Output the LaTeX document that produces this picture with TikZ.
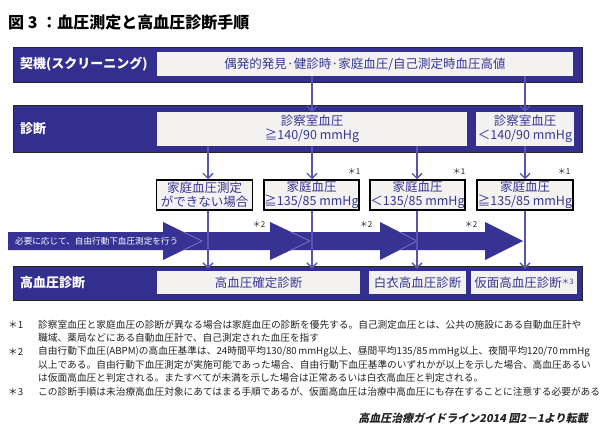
\documentclass[tikz,border=0pt]{standalone}
\usepackage{fontspec}
\setmainfont{Noto Sans CJK JP}
\newfontfamily\jpit{Noto Sans CJK JP}[FakeSlant=0.2]
\usetikzlibrary{arrows.meta}
\XeTeXlinebreaklocale "ja"
\XeTeXlinebreakskip=0pt plus 1pt minus 0.4pt
\definecolor{bandblue}{RGB}{51,47,142}
\definecolor{arrowblue}{RGB}{55,51,148}
\definecolor{boxfill}{RGB}{243,242,241}
\definecolor{textblue}{RGB}{56,54,150}
\definecolor{connblue}{RGB}{88,85,176}
\definecolor{chevron}{RGB}{118,114,196}
\definecolor{notegray}{RGB}{34,34,34}
\tikzset{
  band/.style={draw=black!85, line width=0.6pt, fill=bandblue, inner sep=0pt},
  bandlabel/.style={anchor=west, text=white, font=\bfseries\fontsize{13}{15}\selectfont, inner sep=0pt},
  wbox/.style={fill=boxfill, inner sep=0pt, text=textblue, align=center, font=\fontsize{12.5}{14.5}\selectfont},
  sbox/.style={draw=black, line width=1.5pt, fill=boxfill, inner sep=0pt, text=textblue, align=center, font=\fontsize{12.5}{14.5}\selectfont},
  conn/.style={draw=connblue, line width=1.3pt, -{Straight Barb[length=5pt,width=10pt,line width=1.3pt]}},
  starmark/.style={text=notegray, font=\fontsize{8}{9}\selectfont, inner sep=0pt},
  notelabel/.style={anchor=west, text=notegray, font=\fontsize{9.7}{12}\selectfont, inner sep=0pt},
  noteline/.style={anchor=west, text=notegray, font=\fontsize{9.7}{12}\selectfont, inner sep=0pt},
}
\begin{document}
\begin{tikzpicture}[x=1pt,y=-1pt]
\useasboundingbox (0,0) rectangle (600,433);
\fill[white] (0,0) rectangle (600,433);

% title
\node[anchor=west, inner sep=0pt, font=\bfseries\fontsize{16}{18}\selectfont] (title) at (8,22) {図 3 ：血圧測定と高血圧診断手順};

% band 1
\node[band, minimum width=569pt, minimum height=35pt] (band1) at (297.5,64.5) {};
\node[bandlabel] (lab1) at (20,64.5) {契機(スクリーニング)};
\node[wbox, minimum width=416pt, minimum height=24pt] (b1box) at (365,64) {偶発的発見·健診時·家庭血圧/自己測定時血圧高値};

% band 2
\node[band, minimum width=569pt, minimum height=47pt] (band2) at (297.5,128.5) {};
\node[bandlabel] (lab2) at (20,128.5) {診断};
\node[wbox, minimum width=310pt, minimum height=34pt] (b2box1) at (312,129) {診察室血圧\\≧140/90 mmHg};
\node[wbox, minimum width=98pt, minimum height=34pt] (b2box2) at (525,129) {診察室血圧\\＜140/90 mmHg};

% connector x positions
\coordinate (cx1) at (208,0);
\coordinate (cx2) at (312,0);
\coordinate (cx3) at (417,0);
\coordinate (cx4) at (525,0);

% small boxes
\node[sbox, minimum width=96pt, minimum height=30pt] (sb1) at (204.5,195) {家庭血圧測定\\ができない場合};
\node[sbox, minimum width=95pt, minimum height=30pt] (sb2) at (311.5,195) {家庭血圧\\≧135/85 mmHg};
\node[sbox, minimum width=95pt, minimum height=30pt] (sb3) at (417.5,195) {家庭血圧\\＜135/85 mmHg};
\node[sbox, minimum width=96pt, minimum height=30pt] (sb4) at (525,195) {家庭血圧\\≧135/85 mmHg};

\node[starmark] (s1a) at (354,171) {＊1};
\node[starmark] (s1b) at (459,171) {＊1};
\node[starmark] (s1c) at (564,171) {＊1};

% band 3
\node[band, minimum width=569pt, minimum height=34pt] (band3) at (297.5,283) {};
\node[bandlabel] (lab3) at (20,283) {高血圧診断};
\node[wbox, minimum width=203pt, minimum height=23pt] (b3box1) at (258.5,282.5) {高血圧確定診断};
\node[wbox, minimum width=97pt, minimum height=23pt] (b3box2) at (417.5,282.5) {白衣高血圧診断};
\node[wbox, minimum width=106pt, minimum height=23pt] (b3box3) at (524,282.5) {仮面高血圧診断{\fontsize{7.5}{9}\selectfont\raisebox{3pt}{＊3}}};

% big arrow (ABPM)
\fill[arrowblue] (8,232) -- (163,232) -- (163,222) -- (202,241) -- (163,260) -- (163,250) -- (8,250) -- cycle;
\fill[arrowblue] (175,232) -- (270,232) -- (270,222) -- (310,241) -- (270,260) -- (270,250) -- (175,250) -- cycle;
\fill[arrowblue] (285,232) -- (380,232) -- (380,222) -- (417,241) -- (380,260) -- (380,250) -- (285,250) -- cycle;
\fill[arrowblue] (395,232) -- (485,232) -- (485,222) -- (523,241) -- (485,260) -- (485,250) -- (395,250) -- cycle;
\draw[chevron, line width=0.8pt] (183.5,232) -- (202,241) -- (183.5,250);
\draw[chevron, line width=0.8pt] (291,232) -- (310,241) -- (291,250);
\draw[chevron, line width=0.8pt] (399.5,232) -- (417,241) -- (399.5,250);
\node[anchor=west, inner sep=0pt, text=white, font=\fontsize{8.6}{10}\selectfont] (abpm) at (15,241) {必要に応じて、自由行動下血圧測定を行う};
\node[starmark] (s2a) at (259,224) {＊2};
\node[starmark] (s2b) at (366,224) {＊2};
\node[starmark] (s2c) at (471,224) {＊2};

% connectors
\draw[conn] (b1box.south -| cx2) -- (b2box1.north -| cx2);
\draw[conn] (b1box.south -| cx4) -- (b2box2.north -| cx4);
\draw[conn] (b2box1.south -| cx1) -- (sb1.north -| cx1);
\draw[conn] (b2box1.south -| cx2) -- (sb2.north -| cx2);
\draw[conn] (b2box1.south -| cx3) -- (sb3.north -| cx3);
\draw[conn] (b2box2.south -| cx4) -- (sb4.north -| cx4);
\draw[conn] (sb1.south -| cx1) -- ([yshift=2pt]b3box1.north -| cx1);
\draw[conn] (sb2.south -| cx2) -- ([yshift=2pt]b3box1.north -| cx2);
\draw[conn] (sb3.south -| cx3) -- ([yshift=2pt]b3box2.north -| cx3);
\draw[conn] (sb4.south -| cx4) -- ([yshift=2pt]b3box3.north -| cx4);

% notes
\node[notelabel] (n1) at (8,325) {＊1};
\node[noteline] (n1a) at (38,325) {\hbox to 550pt{診察室血圧と家庭血圧の診断が異なる場合は家庭血圧の診断を優先する。自己測定血圧とは、公共の施設にある自動血圧計や}};
\node[noteline] (n1b) at (38,338) {職域、薬局などにある自動血圧計で、自己測定された血圧を指す};
\node[notelabel] (n2) at (8,352) {＊2};
\node[noteline] (n2a) at (38,352) {\hbox to 550pt{自由行動下血圧(ABPM)の高血圧基準は、24時間平均130/80 mmHg以上、昼間平均135/85 mmHg以上、夜間平均120/70 mmHg}};
\node[noteline] (n2b) at (38,365) {\hbox to 550pt{以上である。自由行動下血圧測定が実施可能であった場合、自由行動下血圧基準のいずれかが以上を示した場合、高血圧あるい}};
\node[noteline] (n2c) at (38,378) {は仮面高血圧と判定される。またすべてが未満を示した場合は正常あるいは白衣高血圧と判定される。};
\node[notelabel] (n3) at (8,392) {＊3};
\node[noteline] (n3a) at (38,392) {\hbox to 548pt{この診断手順は未治療高血圧対象にあてはまる手順であるが、仮面高血圧は治療中高血圧にも存在することに注意する必要がある}};

\node[anchor=east, inner sep=0pt, text=notegray, font=\jpit\bfseries\fontsize{11}{13}\selectfont] (src) at (588,418) {高血圧治療ガイドライン2014 図2－1より転載};
\end{tikzpicture}
\end{document}
